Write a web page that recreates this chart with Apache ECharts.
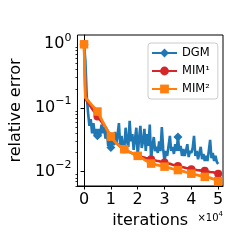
<!DOCTYPE html>
<html>
<head>
<meta charset="utf-8">
<script src="https://cdn.jsdelivr.net/npm/echarts@6/dist/echarts.min.js"></script>
<style>html,body{margin:0;padding:0;background:#fff;}#c{width:249px;height:249px;}</style>
</head>
<body>
<div id="c"></div>
<script>
// ---- data ----
const dgmIters = [0,500,1000,1500,2000,2500,3000,3500,4000,4500,5000,5500,6000,6500,7000,7500,8000,8500,9000,9500,
10000,10500,11000,11500,12000,12500,13000,13500,14000,14500,15000,15500,16000,16500,17000,17500,18000,18500,19000,19500,
20000,20500,21000,21500,22000,22500,23000,23500,24000,24500,25000,25500,26000,26500,27000,27500,28000,28500,29000,29500,
30000,30500,31000,31500,32000,32500,33000,33500,34000,34500,35000,35500,36000,36500,37000,37500,38000,38500,39000,39500,
40000,40500,41000,41500,42000,42500,43000,43500,44000,44500,45000,45500,46000,46500,47000,47500,48000,48500,49000,49500,50000];
const dgmErr = [1.0,0.55,0.155,0.084,0.0525,0.067,0.040,0.058,0.038,0.047,
0.0365,0.047,0.036,0.055,0.040,0.050,0.033,0.044,0.0254,0.030,
0.0239,0.0365,0.026,0.042,0.027,0.038,0.058,0.025,0.0365,0.0245,
0.0225,0.049,0.030,0.0245,0.063,0.030,0.039,0.022,0.033,0.049,
0.0177,0.033,0.0525,0.0236,0.030,0.047,0.0212,0.039,0.0254,0.055,
0.0157,0.0254,0.035,0.021,0.0245,0.0197,0.030,0.021,0.050,0.0228,
0.0142,0.0212,0.0177,0.0254,0.0365,0.0212,0.0245,0.019,0.027,0.0212,
0.0352,0.0212,0.0254,0.0177,0.0228,0.0177,0.0212,0.027,0.017,0.0212,
0.0197,0.0236,0.0365,0.0177,0.0212,0.0157,0.0197,0.0245,0.0157,0.019,
0.0147,0.0177,0.0147,0.0212,0.0316,0.0163,0.0197,0.0147,0.0177,0.0142,0.0132];
const dgmMarked = [0,5000,10000,35000];

const mimIters = [0,500,1000,2000,3000,4000,5000,6000,7000,8000,9000,10000,11000,12000,13000,14000,15000,16000,17000,18000,19000,
20000,21000,22000,23000,24000,25000,26000,27000,28000,29000,30000,31000,32000,33000,34000,35000,36000,37000,38000,39000,
40000,41000,42000,43000,44000,45000,46000,47000,48000,49000,50000];
const mim1Err = [1.0,0.145,0.130,0.112,0.0974,0.0846,0.0734,0.065,0.0574,0.0498,0.0422,
0.0358,0.0314,0.0281,0.0259,0.0240,0.0225,0.0213,0.0203,0.0194,0.0187,
0.0178,0.0172,0.0169,0.0164,0.0161,0.0157,0.0153,0.0149,0.0146,0.0142,
0.0139,0.0136,0.0133,0.0129,0.0126,0.0123,0.0120,0.0117,0.0114,0.0112,
0.0109,0.0108,0.0106,0.0105,0.0104,0.0103,0.0101,0.0099,0.0098,0.0096,0.0093];
const mim2Err = [1.0,0.146,0.137,0.123,0.110,0.099,0.088,0.073,0.0607,0.0506,0.0422,
0.0356,0.0314,0.0281,0.0259,0.0240,0.0225,0.0213,0.0203,0.0194,0.0185,
0.0177,0.0167,0.0159,0.0150,0.0142,0.0134,0.0131,0.0128,0.0125,0.0122,
0.0120,0.0117,0.0114,0.0111,0.0109,0.0106,0.0103,0.0101,0.0098,0.0096,
0.0093,0.0091,0.0089,0.0087,0.0085,0.0083,0.0082,0.0080,0.0077,0.0075,0.0071];
const mimMarkStep = 5000;

const xTicks = [0,10000,20000,30000,40000,50000];
const xTickLabels = ['0','1','2','3','4','5'];
const yMajor = [1,0.1,0.01];
const yMinor = [0.006,0.007,0.008,0.009,0.02,0.03,0.04,0.05,0.06,0.07,0.08,0.09,0.2,0.3,0.4,0.5,0.6,0.7,0.8,0.9];
const names = ['DGM','MIM¹','MIM²'];

// ---- chart ----
const FONT = 'DejaVu Sans';
const pair = (xs, ys) => xs.map((x, i) => [x, ys[i]]);
const chart = echarts.init(document.getElementById('c'), null, {renderer: 'canvas'});
const supLabel = v => {
  const e = Math.round(Math.log10(v));
  return '{b|10}{s|' + (e < 0 ? '\u2212' + (-e) : e) + '}';
};
chart.setOption({
  animation: false,
  backgroundColor: '#fff',
  grid: {left: 74, top: 35, right: 26, bottom: 63, show: true, borderColor: '#000', borderWidth: 1, backgroundColor: 'transparent'},
  xAxis: {
    type: 'value', min: -2450, max: 51800,
    name: 'iterations', nameLocation: 'middle', nameGap: 27,
    nameTextStyle: {fontFamily: FONT, fontSize: 16, color: '#000'},
    axisLine: {show: true, lineStyle: {color: '#000', width: 1}},
    axisTick: {show: true, length: 3.5, lineStyle: {color: '#000', width: 1}, customValues: xTicks},
    axisLabel: {margin: 6, fontFamily: FONT, fontSize: 16, color: '#000', customValues: xTicks,
      formatter: v => xTickLabels[xTicks.indexOf(v)]},
    splitLine: {show: false}
  },
  yAxis: [{
    type: 'log', logBase: 10, min: 0.00596, max: 1.40,
    name: 'relative error', nameLocation: 'middle', nameGap: 53, nameRotate: 90,
    nameTextStyle: {fontFamily: FONT, fontSize: 16, color: '#000'},
    axisLine: {show: true, lineStyle: {color: '#000', width: 1}},
    axisTick: {show: true, length: 3.5, lineStyle: {color: '#000', width: 1}, customValues: yMajor},
    axisLabel: {margin: 6, color: '#000', customValues: yMajor, formatter: supLabel,
      rich: {b: {fontFamily: FONT, fontSize: 16, lineHeight: 24, color: '#000'},
             s: {fontFamily: FONT, fontSize: 11, lineHeight: 11, verticalAlign: 'top', color: '#000'}}},
    splitLine: {show: false}
  }, {
    type: 'log', logBase: 10, min: 0.00596, max: 1.40, position: 'left',
    axisLine: {show: false},
    axisTick: {show: true, length: 2, lineStyle: {color: '#000', width: 0.8}, customValues: yMinor},
    axisLabel: {show: false},
    splitLine: {show: false}
  }],
  legend: {
    data: names, left: 148, top: 43, orient: 'vertical',
    padding: [4, 8, 4, 3], itemGap: 6, itemWidth: 25, itemHeight: 11,
    backgroundColor: 'rgba(255,255,255,0.8)', borderColor: '#cccccc', borderWidth: 1, borderRadius: 3,
    textStyle: {fontFamily: FONT, fontSize: 11.5, color: '#000', lineHeight: 11}
  },
  graphic: [{
    type: 'text', right: 26, top: 211,
    style: {text: '{b|\u00d710}{s|4}', rich: {
      b: {fontFamily: FONT, fontSize: 10, lineHeight: 14, fill: '#000'},
      s: {fontFamily: FONT, fontSize: 7, lineHeight: 7, verticalAlign: 'top', fill: '#000'}}}
  }],
  series: [{
    name: names[0], type: 'line', data: pair(dgmIters, dgmErr),
    color: '#1f77b4', lineStyle: {width: 2.6, color: '#1f77b4'},
    symbol: 'diamond', symbolSize: v => dgmMarked.indexOf(v[0]) >= 0 ? 9 : 0,
    showSymbol: true, itemStyle: {color: '#1f77b4'}, z: 2
  }, {
    name: names[1], type: 'line', data: pair(mimIters, mim1Err),
    color: '#d62728', lineStyle: {width: 2.6, color: '#d62728'},
    symbol: 'circle', symbolSize: v => v[0] % mimMarkStep === 0 ? 8 : 0,
    showSymbol: true, itemStyle: {color: '#d62728'}, z: 3
  }, {
    name: names[2], type: 'line', data: pair(mimIters, mim2Err),
    color: '#ff7f0e', lineStyle: {width: 2.8, color: '#ff7f0e'},
    symbol: 'rect', symbolSize: v => v[0] % mimMarkStep === 0 ? 8.5 : 0,
    showSymbol: true, itemStyle: {color: '#ff7f0e'}, z: 4
  }]
});
</script>
</body>
</html>
